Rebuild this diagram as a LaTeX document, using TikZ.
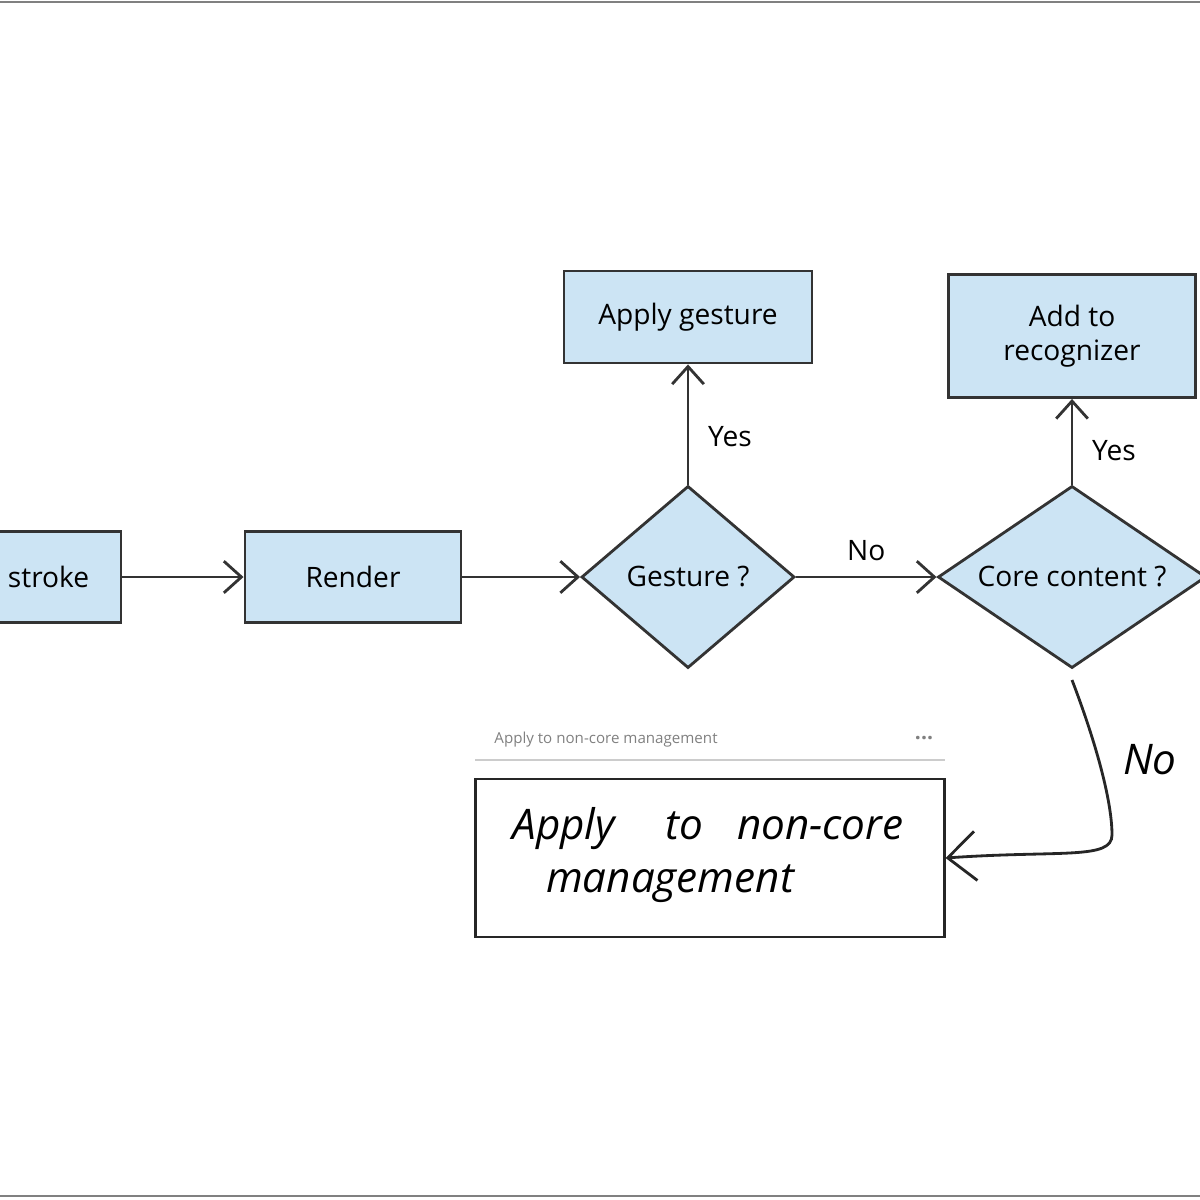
\documentclass[tikz,border=0pt]{standalone}
\usepackage{fontspec}
\setmainfont{Open Sans}
\usetikzlibrary{shapes.geometric,arrows.meta}
\definecolor{boxblue}{RGB}{204,228,244}

\begin{document}
\begin{tikzpicture}[x=0.01cm,y=-0.01cm,font=\fontsize{8}{9.5}\selectfont]
    \tikzstyle{process}=[
      draw=black!80,
      fill=boxblue,
      thick,
      rectangle,
      align=center,
      inner sep=0pt,
    ]
    \tikzstyle{test}=[
      draw=black!80,
      fill=boxblue,
      thick,
      diamond,
      inner sep=0pt,
    ]
    \tikzstyle{dedge}=[thick,->,>={Straight Barb[length=5pt,width=9pt]},draw=black!80]
    \tikzstyle{hand}=[font=\fontsize{12}{15}\selectfont\itshape]

    \useasboundingbox (0,0) rectangle (1200,1200);
    \draw[gray,thick] (0,2) -- (1200,2);
    \draw[gray,thick] (0,1196) -- (1200,1196);

    % main flow
    {
      \node[process, minimum width=2.5cm, minimum height=0.91cm] (stroke) at (-4,577) {\hspace*{1.05cm}stroke};
      \node[process, minimum width=2.16cm, minimum height=0.91cm] (render) at (353,577) {Render};
      \node[test, minimum width=2.13cm, minimum height=1.82cm] (gesture) at (688,577) {Gesture ?};
      \node[test, aspect=1.47, inner sep=-5pt, minimum width=2.68cm, minimum height=1.82cm] (core) at (1072,577) {Core content ?};
      \node[process, minimum width=2.48cm, minimum height=0.92cm] (apply) at (688,317) {Apply gesture};
      \node[process, minimum width=2.47cm, minimum height=1.23cm] (add) at (1072,336) {Add to\\recognizer};

      \draw[dedge] (stroke)--(render);
      \draw[dedge] (render)--(gesture);
      \draw[dedge] (gesture)--(core) node[midway,above=1pt] {No};
      \draw[dedge] (gesture)--(apply) node[pos=0.4,right=2pt] {Yes};
      \draw[dedge] (core)--(add) node[pos=0.4,right=2pt] {Yes};
    }

    % handwritten part
    {
      \node[gray, font=\fontsize{4.3}{6}\selectfont, anchor=west] (title) at (482,740) {Apply to non-core management};
      \node[gray, font=\fontsize{6}{6}\selectfont\bfseries] (dots) at (924,738) {...};
      \draw[black!20, thick] (475,760) -- (945,760);
      \node[draw=black!85, thick, minimum width=4.68cm, minimum height=1.58cm] (ink) at (710,858) {};
      \node[hand, anchor=north west, align=left] (inktext) at (500,795) {Apply\hspace{1.2em}to\hspace{0.8em}non-core\\\hspace{0.8em}management};
      \coordinate (coreBottom) at (1072,680);
      \draw[thick, black!85, ->, >={Straight Barb[length=8pt,width=14pt]}] (coreBottom) .. controls (1095,740) and (1112,800) .. (1112,835) .. controls (1112,860) and (1060,850) .. (ink.east);
      \node[hand] (no) at (1150,760) {No};
    }
\end{tikzpicture}
\end{document}
